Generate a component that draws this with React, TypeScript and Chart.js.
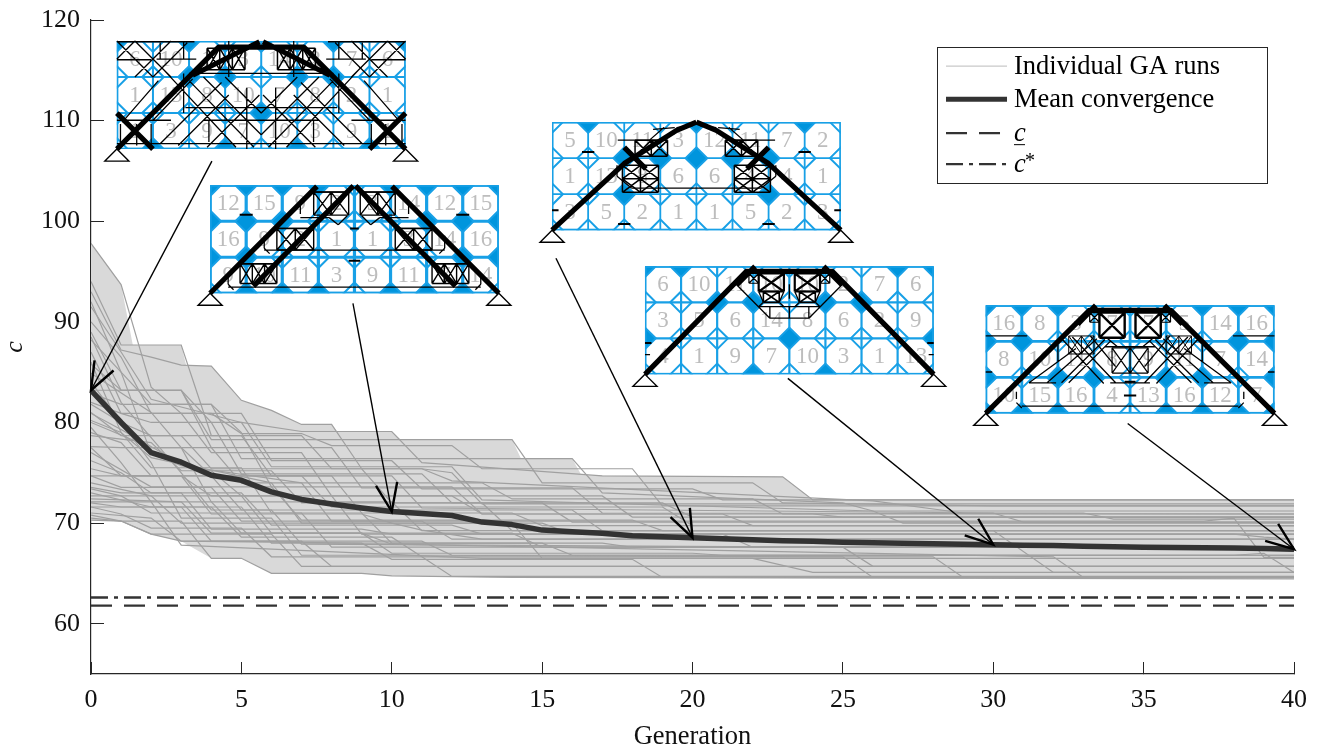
import React, { useEffect, useRef } from "react";
import { Chart, registerables } from "chart.js";

Chart.register(...registerables);

const SERIF = '"Liberation Serif", "Times New Roman", serif';
const xTicks = [0, 5, 10, 15, 20, 25, 30, 35, 40];
const yTicks = [60, 70, 80, 90, 100, 110, 120];
const legendLabels = ["Individual GA runs", "Mean convergence", "c", "c"];

const meanGen = [0,1,2,3,4,5,6,7,8,9,10,11,12,13,14,15,16,17,18,19,20,21,22,23,24,25,26,27,28,29,30,31,32,33,34,35,36,37,38,39,40];
const meanC = [83.2,80.0,77.0,76.05,74.75,74.25,73.1,72.35,71.9,71.5,71.15,70.95,70.75,70.1,69.85,69.3,69.15,69.0,68.75,68.65,68.55,68.45,68.35,68.25,68.2,68.1,68.05,68.0,67.95,67.9,67.85,67.8,67.77,67.7,67.65,67.6,67.57,67.55,67.52,67.47,67.4];
const cLower = 61.8;
const cStar = 62.6;

const upperEnvelope = [[0,97.8],[1,93.7],[1.39,87.7],[3,87.7],[3.17,85.6],[4,85.6],[5,82.2],[6,81.2],[7,79.8],[8,79.8],[8.17,79.1],[10,79.1],[10.3,78.3],[14,78.3],[14.3,76.4],[16,76.4],[16.3,74.8],[17,74.7],[23,74.6],[24,72.3],[40,72.3]];
const lowerEnvelope = [[0,70.25],[1,70.2],[2,68.9],[3,68.2],[4,66.5],[5,66.5],[6,65.0],[9,65.0],[10,64.75],[14,64.6],[40,64.45]];

const run01 = [[0,97.8],[1,93.7],[2,83.5],[3,80.9],[5,80.9],[6,76.2],[10,76.2],[11,73.4],[20,73.4],[21,72.3],[40,72.3]];
const run02 = [[0,94.0],[1,87.7],[3,87.7],[4,78.7],[7,78.7],[8,75.4],[11,75.4],[12,74.2],[26,72.2],[29,71.0],[33,71.0],[34,70.4],[40,70.4]];
const run03 = [[0,93.0],[1,87.2],[2,86.5],[3,85.7],[4,85.6],[5,82.2],[6,81.2],[7,79.8],[8,79.8],[9,75.4],[11,75.4],[12,75.0],[13,71.9],[40,71.9]];
const run04 = [[0,91.5],[1,87.0],[2,82.3],[5,80.0],[7,79.1],[10,79.1],[11,76.0],[17,74.7],[23,74.6],[24,72.3],[40,72.3]];
const run05 = [[0,90.0],[1,86.5],[2,80.9],[4,80.9],[5,78.9],[7,78.9],[8,77.7],[12,77.7],[13,75.4],[18,75.4],[19,71.7],[40,71.7]];
const run06 = [[0,89.0],[1,83.2],[3,83.2],[4,78.3],[10,78.3],[14,78.3],[15,74.0],[22,74.0],[23,72.0],[30,71.7],[40,71.7]];
const run07 = [[0,88.2],[1,85.0],[2,81.8],[4,81.8],[5,76.4],[14,76.4],[16,76.4],[17,73.0],[25,72.0],[26,71.2],[40,71.2]];
const run08 = [[0,87.0],[1,80.9],[2,80.0],[5,80.0],[6,75.6],[12,75.6],[13,72.3],[26,71.2],[27,70.0],[40,70.0]];
const run09 = [[0,85.8],[1,83.2],[3,83.2],[4,77.5],[8,77.5],[9,73.5],[16,73.5],[17,71.0],[40,70.9]];
const run10 = [[0,84.9],[2,81.0],[3,77.5],[4,77.5],[5,74.0],[13,74.0],[14,72.4],[22,72.4],[23,70.9],[40,70.9]];
const run11 = [[0,83.2],[3,83.2],[4,80.0],[5,74.9],[11,74.9],[12,72.0],[19,72.0],[20,70.6],[40,70.6]];
const run12 = [[0,82.9],[1,81.8],[4,81.8],[5,79.0],[6,73.6],[12,73.6],[13,70.9],[24,70.9],[25,70.6],[40,70.6]];
const run13 = [[0,82.0],[1,80.9],[3,80.9],[4,77.0],[7,77.0],[8,72.7],[17,72.7],[18,70.6],[40,70.6]];
const run14 = [[0,81.8],[1,80.0],[2,78.7],[5,78.7],[6,74.7],[10,74.7],[11,71.5],[30,71.0],[31,70.1],[40,70.1]];
const run15 = [[0,81.0],[1,78.7],[3,78.7],[4,75.4],[9,75.4],[10,72.0],[15,72.0],[16,70.1],[40,70.1]];
const run16 = [[0,80.2],[1,79.0],[2,76.5],[4,75.2],[5,72.7],[12,72.7],[13,70.9],[21,70.9],[22,69.75],[40,69.75]];
const run17 = [[0,80.0],[2,77.5],[3,77.5],[4,74.7],[8,74.7],[9,71.0],[14,71.0],[15,69.75],[40,69.75]];
const run18 = [[0,79.0],[1,78.0],[2,74.7],[7,74.7],[8,71.6],[19,71.6],[20,69.75],[40,69.75]];
const run19 = [[0,78.7],[2,78.0],[3,75.2],[6,75.2],[7,72.0],[13,72.0],[14,69.25],[40,69.25]];
const run20 = [[0,77.6],[1,77.5],[3,77.5],[4,72.1],[10,72.1],[11,69.25],[30,69.25],[32,65.1],[40,65.1]];
const run21 = [[0,77.5],[1,74.7],[4,74.7],[5,71.3],[16,71.3],[17,69.25],[40,69.25]];
const run22 = [[0,77.0],[2,73.6],[6,73.6],[7,70.3],[18,70.3],[19,69.25],[40,69.25]];
const run23 = [[0,76.2],[1,75.0],[2,73.0],[5,73.0],[6,69.8],[12,69.8],[13,68.9],[40,68.9]];
const run24 = [[0,75.4],[1,74.7],[3,74.7],[4,70.9],[9,70.9],[10,70.0],[15,70.0],[16,68.9],[40,68.9]];
const run25 = [[0,74.7],[3,74.7],[4,72.7],[8,72.7],[9,68.9],[38,68.9],[39,68.6],[40,68.4]];
const run26 = [[0,74.7],[1,73.55],[4,73.55],[5,70.2],[11,70.2],[12,68.4],[40,68.4]];
const run27 = [[0,74.0],[2,72.7],[3,70.0],[10,70.0],[11,69.3],[13,68.4],[40,68.4]];
const run28 = [[0,73.55],[1,73.0],[3,73.0],[4,69.4],[9,69.4],[10,68.9],[21,68.9],[22,67.6],[40,67.6]];
const run29 = [[0,73.4],[1,72.7],[5,72.7],[6,69.0],[14,69.0],[15,67.6],[40,67.6]];
const run30 = [[0,73.0],[2,71.6],[5,71.6],[6,68.0],[17,68.0],[18,67.6],[40,67.6]];
const run31 = [[0,72.7],[1,72.7],[2,71.0],[7,71.0],[8,67.6],[40,67.6]];
const run32 = [[0,72.4],[3,72.1],[4,69.0],[9,69.0],[10,67.0],[20,67.0],[21,66.8],[40,66.8]];
const run33 = [[0,72.1],[2,72.1],[3,67.8],[13,66.5],[40,66.5]];
const run34 = [[0,72.0],[1,71.6],[4,71.6],[5,68.6],[10,68.6],[11,66.65],[12,64.7],[40,64.7]];
const run35 = [[0,71.6],[3,71.6],[4,68.2],[11,68.2],[12,66.8],[24,66.65],[25,66.65],[26,64.6],[40,64.6]];
const run36 = [[0,71.6],[1,70.9],[2,69.5],[5,69.5],[6,66.65],[27,66.65],[28,66.65],[29,64.6],[40,64.6]];
const run37 = [[0,71.0],[2,70.5],[3,68.2],[7,68.2],[8,65.7],[40,65.7]];
const run38 = [[0,70.8],[1,70.2],[2,68.9],[6,68.9],[7,65.7],[40,65.7]];
const run39 = [[0,70.5],[1,70.2],[3,70.2],[4,66.5],[5,66.5],[6,65.0],[9,65.0],[10,64.75],[14,64.6],[40,64.45]];
const run40 = [[0,70.3],[1,70.2],[2,68.9],[3,68.2],[9,68.0],[10,66.4],[18,66.4],[19,64.6],[40,64.6]];
const run41 = [[0,80.9],[1,79.3],[3,75.9],[6,74.0],[7,70.0],[14,70.0],[15,66.5],[22,66.5],[24,65.1],[40,65.1]];
const run42 = [[0,79.5],[1,76.0],[2,72.1],[4,72.1],[5,69.0],[9,69.0],[10,67.9],[32,66.65],[33,64.6],[40,64.6]];
const run43 = [[0,86.0],[1,79.0],[2,75.5],[5,75.5],[6,71.0],[9,71.0],[10,68.0],[15,68.0],[16,66.8],[40,66.8]];
const run44 = [[0,92.0],[1,85.0],[2,76.9],[3,75.7],[7,74.0],[8,70.2],[37,70.2],[38,70.5],[39,66.6],[40,66.6]];
const run45 = [[0,84.0],[2,76.0],[3,70.5],[6,70.5],[7,66.8],[38,66.8],[39,67.0],[40,65.1]];
const run46 = [[0,88.5],[1,82.0],[3,75.0],[4,71.3],[6,71.3],[7,67.9],[24,67.6],[25,67.6],[26,65.7],[40,65.7]];
const runs = [run01,run02,run03,run04,run05,run06,run07,run08,run09,run10,run11,run12,run13,run14,run15,run16,run17,run18,run19,run20,run21,run22,run23,run24,run25,run26,run27,run28,run29,run30,run31,run32,run33,run34,run35,run36,run37,run38,run39,run40,run41,run42,run43,run44,run45,run46];

// Inset truss drawings, positioned in axis units; geometry is in cell units (8 x 3 cells).
const CELL_GEN = 1.2;
const CELL_C = 3.58;

const inset1 = {
  left: 0.86, top: 117.91, grid: 2,
  numbers: [[6,10,1,3,14,2,7,6],[1,13,8,10,7,8,2,1],[1,3,9,7,10,3,9,1]],
  filled: [[0,0],[2,0],[6,0],[8,0],[2,1],[3,1],[5,1],[6,1],[4,2],[3,3],[5,3],[1,3],[7,3]],
  thick: [[0,3,2.82,0.17,4,0.17],[2.1,0.95,3.95,0.02],[0,2,1,3]],
  boxes: [[2.5,0.2,1.05,0.6,3,1,1.5]],
  thin: [[0,0.02,2.15,0.02],[0,0.52,0.95,0.52],[0,0.5,0.5,0],[0.5,1,1.5,0],[1,1,1.95,0.05],[0,0,1,1],[0.5,0,1.5,1],[1.2,0.05,1.2,0.5],[1.85,0,1.85,0.5],[1,2.2,2.1,1.05],[1.2,2.85,2.9,1.15],[1.7,2.9,3.1,1.5],[2.5,2.95,3.95,1.5],[1.3,0.8,3.3,2.95],[2,1.1,3.8,2.95],[2.4,1,4,2.6],[3,1,4,2],[2,0.9,4,0.9],[1.9,1.85,4,1.85],[0,2.2,1.5,2.2],[0,2.85,4,2.85],[1.85,0.9,1.85,2],[0.15,2.25,1.15,1.1],[2.4,2.2,4,2.2],[1.1,0.5,2.2,0.5],[3.1,0,3.1,1],[3.6,1.3,3.6,3],[2.55,2.2,2.55,2.8],[0.1,2.3,0.1,2.9],[0.55,2.3,0.55,2.9],[0.95,2.3,0.95,2.9]],
  ticks: [],
};
const inset2 = {
  left: 3.96, top: 103.58, grid: 3.2,
  numbers: [[12,15,9,2,3,14,12,15],[16,9,2,1,1,3,14,16],[9,10,11,3,9,11,7,14]],
  filled: [[0,0],[1,0],[2,0],[3,0],[5,0],[6,0],[7,0],[8,0],[0,1],[1,1],[2,1],[6,1],[7,1],[8,1],[0,2],[1,2],[7,2],[8,2],[1,3],[2,3],[3,3],[5,3],[6,3],[7,3]],
  thick: [[0,3,2.96,0.03],[1.2,2.8,3.97,0.02]],
  boxes: [[0.83,2.18,1.02,0.55,3,1,1.4],[1.85,1.2,1.02,0.6,2,1,1.4],[2.87,0.19,0.97,0.64,2,1,1.4]],
  thin: [[0.5,2.83,4,2.83],[0.5,2.5,0.5,2.75],[0.5,2.75,0.65,2.9],[1.5,1.8,4,1.8],[1.5,1.4,1.5,1.75],[1.5,1.75,1.65,1.9],[2.5,0.9,3.3,0.9],[3.3,0.9,3.55,1.1],[3.55,1.1,3.8,0.85],[2.5,0.45,2.5,0.8],[0.83,2.18,1.85,2.18],[1.85,1.2,2.87,1.2],[2.87,0.19,3.84,0.19]],
  ticks: [[1,0.82,0.18],[4,2.1,0.16],[4,1.2,0.12]],
};
const inset3 = {
  left: 15.33, top: 109.85, grid: 1.8,
  numbers: [[5,10,11,3,12,11,7,2],[1,13,8,6,6,4,4,1],[3,5,2,1,1,5,2,3]],
  filled: [[1,0],[4,0],[7,0],[2,1],[3,1],[4,1],[5,1],[6,1],[2,2],[6,2]],
  thick: [[0,3,2,1.15,3.45,0.23,4,0],[2.0,0.7,2.6,1.3]],
  boxes: [[2.3,0.5,0.9,0.45,2,1,1.5],[1.95,1.2,1,0.75,2,2,1.5]],
  thin: [[1.82,0.5,3.2,0.5],[1.8,1.2,1.8,1.5],[1.8,1.5,2.2,1.83],[2.2,1.83,4,1.83],[2.8,0.2,3.4,0.15],[2.7,0.5,3.1,0.15],[3.45,0.15,3.9,0.1]],
  ticks: [[1,0.83,0.17],[0.09,2.45,0.09],[2,2.83,0.17]],
};
const inset4 = {
  left: 18.42, top: 95.52, grid: 2.2,
  numbers: [[6,10,11,10,10,2,7,6],[3,5,6,14,8,6,2,9],[4,1,9,7,10,3,1,13]],
  filled: [[0,0],[1,0],[7,0],[8,0],[2,1],[3,1],[5,1],[6,1],[4,2],[0,2],[8,2],[3,3],[5,3]],
  thick: [[0,3,2.81,0.14,4,0.14],[2.54,0.52,3.05,0.0]],
  boxes: [[3.15,0.2,0.7,0.5,1,1,2.2],[3.28,0.7,0.44,0.3,1,1,1.6],[2.88,0.2,0.27,0.27,1,1,1.2]],
  thin: [[2.54,0.51,3.46,1.44],[3.46,1.44,4,1.44],[3.46,1.14,3.46,1.44],[3.15,1.12,4,1.12],[3.15,0.7,3.28,1.0],[3.85,0.7,3.72,1.0],[4,0.5,4,0.9],[4,1.14,4,1.44],[3.28,1.0,3.15,1.12],[3.72,1.0,3.85,1.12],[0,2.45,0.14,2.45]],
  ticks: [[0.09,2.13,0.09]],
};
const inset5 = {
  left: 29.75, top: 91.64, grid: 2.8,
  numbers: [[16,8,3,7,7,5,14,16],[8,10,11,8,9,11,7,14],[10,15,16,4,13,16,12,7]],
  filled: [[0,0],[1,0],[2,0],[6,0],[7,0],[8,0],[0,1],[1,1],[7,1],[8,1],[0,2],[8,2],[2,2],[3,2],[5,2],[6,2],[0,3],[1,3],[2,3],[3,3],[5,3],[6,3],[7,3],[8,3]],
  thick: [[0,3,2.87,0.14,4,0.14],[2.55,0.52,3.05,0.0]],
  boxes: [[3.15,0.2,0.7,0.7,1,1,2.4],[2.88,0.2,0.27,0.27,1,1,1.2],[3.5,1.18,0.5,0.7,1,1,1.2],[2.3,0.85,0.7,0.5,2,1,1]],
  thin: [[2.06,0.88,3.27,2.17],[2.4,0.88,3.6,2.15],[2.9,0.85,3.6,1.7],[1.7,2.15,3.08,0.93],[2.1,2.15,3.3,0.95],[2.3,2.15,3.45,1],[1.2,2.15,2.5,1.2],[0,0.85,1.15,0.85],[1.2,2.15,1.95,2.15],[3.45,2.15,4,2.15],[1,2.8,4,2.8],[0.85,2.7,1,2.85],[0.85,2.4,0.85,2.6],[2,1.1,2,1.55],[3.3,1.15,4,1.15],[0,1.85,0.18,1.85],[3.35,0.9,3.65,1.15]],
  ticks: [[4,2.12,0.15],[4,2.5,0.17]],
};
const insets = [inset1, inset2, inset3, inset4, inset5];

// Annotation arrows: tail in axis units, head on the mean curve at a generation.
const arrowTailGen = [4.02, 8.71, 15.46, 23.17, 34.47];
const arrowTailC = [105.97, 91.84, 96.32, 84.38, 79.9];
const arrowHeadGen = [0, 10, 20, 30, 40];

const toXY = (r: number[][]) => r.map(([x, y]) => ({ x, y }));
const noPadding = (s: any) => {
  s.paddingTop = 0;
  s.paddingBottom = 0;
  s.paddingLeft = 0;
  s.paddingRight = 0;
};

const insetPlugin = {
  id: "insets",
  afterDatasetsDraw(chart: any) {
    const { ctx, scales } = chart;
    const xs = scales.x;
    const ys = scales.y;
    const BLUE = "#0095dd";
    const LINE = "#18a0e6";
    ctx.save();
    // arrows
    arrowHeadGen.forEach((g, k) => {
      const i = meanGen.indexOf(g);
      const hx = xs.getPixelForValue(g);
      const hy = ys.getPixelForValue(meanC[i]);
      const tx = xs.getPixelForValue(arrowTailGen[k]);
      const ty = ys.getPixelForValue(arrowTailC[k]);
      ctx.strokeStyle = "#000";
      ctx.lineWidth = 1.4;
      ctx.beginPath();
      ctx.moveTo(tx, ty);
      ctx.lineTo(hx, hy);
      ctx.stroke();
      const a = Math.atan2(ty - hy, tx - hx);
      ctx.lineWidth = 2.4;
      ctx.beginPath();
      const sp = (21 * Math.PI) / 180;
      ctx.moveTo(hx + 30 * Math.cos(a - sp), hy + 30 * Math.sin(a - sp));
      ctx.lineTo(hx, hy);
      ctx.lineTo(hx + 30 * Math.cos(a + sp), hy + 30 * Math.sin(a + sp));
      ctx.stroke();
    });
    // insets
    insets.forEach((ins) => {
      const px = (u: number) => xs.getPixelForValue(ins.left + u * CELL_GEN);
      const py = (v: number) => ys.getPixelForValue(ins.top - v * CELL_C);
      const seg = (u1: number, v1: number, u2: number, v2: number) => {
        ctx.moveTo(px(u1), py(v1));
        ctx.lineTo(px(u2), py(v2));
      };
      const x0 = px(0), y0 = py(0), w = px(8) - x0, h = py(3) - y0;
      ctx.save();
      ctx.beginPath();
      ctx.rect(x0, y0, w, h);
      ctx.clip();
      ctx.fillStyle = "#fff";
      ctx.fillRect(x0, y0, w, h);
      ctx.strokeStyle = LINE;
      ctx.lineWidth = ins.grid;
      ctx.beginPath();
      for (let i = 0; i <= 8; i++) seg(i, 0, i, 3);
      for (let j = 0; j <= 3; j++) seg(0, j, 8, j);
      ctx.stroke();
      ctx.lineWidth = 2;
      const r = 0.3;
      ctx.lineJoin = "miter";
      for (let i = 0; i <= 8; i++) {
        for (let j = 0; j <= 3; j++) {
          const isFilled = ins.filled.some((f) => f[0] === i && f[1] === j);
          ctx.beginPath();
          ctx.moveTo(px(i - r), py(j));
          ctx.lineTo(px(i), py(j - r));
          ctx.lineTo(px(i + r), py(j));
          ctx.lineTo(px(i), py(j + r));
          ctx.closePath();
          if (isFilled) {
            ctx.fillStyle = BLUE;
            ctx.fill();
          }
          ctx.stroke();
        }
      }
      ctx.strokeStyle = LINE;
      ctx.lineWidth = 3;
      ctx.strokeRect(x0, y0, w, h);
      ctx.fillStyle = "#bdbdbd";
      ctx.font = `23px ${SERIF}`;
      ctx.textAlign = "center";
      ctx.textBaseline = "middle";
      ins.numbers.forEach((row, j) =>
        row.forEach((n, i) => ctx.fillText(String(n), px(i + 0.5), py(j + 0.5) + 1))
      );
      ctx.restore();

      ctx.strokeStyle = "#000";
      ctx.lineCap = "butt";
      // thin members, mirrored about the centre line
      ctx.lineWidth = 1.3;
      ctx.beginPath();
      ins.thin.forEach(([a, b, c, d]) => {
        seg(a, b, c, d);
        seg(8 - a, b, 8 - c, d);
      });
      ctx.stroke();
      // braced panels
      ins.boxes.forEach(([u, v, bw, bh, nx, ny, lw]) => {
        ctx.lineWidth = lw;
        ctx.beginPath();
        for (const m of [0, 1]) {
          const f = (q: number) => (m ? 8 - q : q);
          for (let a = 0; a <= nx; a++) seg(f(u + (a * bw) / nx), v, f(u + (a * bw) / nx), v + bh);
          for (let b = 0; b <= ny; b++) seg(f(u), v + (b * bh) / ny, f(u + bw), v + (b * bh) / ny);
          for (let a = 0; a < nx; a++)
            for (let b = 0; b < ny; b++) {
              const ua = u + (a * bw) / nx, ub = u + ((a + 1) * bw) / nx;
              const va = v + (b * bh) / ny, vb = v + ((b + 1) * bh) / ny;
              seg(f(ua), va, f(ub), vb);
              seg(f(ub), va, f(ua), vb);
            }
        }
        ctx.stroke();
      });
      // short bars at nodes
      ctx.lineWidth = 2;
      ctx.beginPath();
      ins.ticks.forEach(([u, v, s]) => {
        seg(u - s, v, u + s, v);
        seg(8 - u - s, v, 8 - u + s, v);
      });
      ctx.stroke();
      // heavy members
      ctx.lineWidth = 5.2;
      ctx.lineJoin = "round";
      ctx.beginPath();
      ins.thick.forEach((p) => {
        for (const m of [0, 1]) {
          const f = (q: number) => (m ? 8 - q : q);
          ctx.moveTo(px(f(p[0])), py(p[1]));
          for (let q = 2; q < p.length; q += 2) ctx.lineTo(px(f(p[q])), py(p[q + 1]));
        }
      });
      ctx.stroke();
      // supports
      ctx.lineWidth = 1.4;
      ctx.lineJoin = "miter";
      for (const u of [0, 8]) {
        ctx.beginPath();
        ctx.moveTo(px(u), py(3));
        ctx.lineTo(px(u) - 12, py(3) + 12);
        ctx.lineTo(px(u) + 12, py(3) + 12);
        ctx.closePath();
        ctx.stroke();
      }
    });
    // legend
    const lx = xs.getPixelForValue(28.13);
    const ly = ys.getPixelForValue(117.3);
    ctx.fillStyle = "#fff";
    ctx.fillRect(lx, ly, 330, 136);
    ctx.strokeStyle = "#262626";
    ctx.lineWidth = 1;
    ctx.strokeRect(Math.round(lx) + 0.5, Math.round(ly) + 0.5, 330, 136);
    const rows = [19, 52, 86, 117];
    const styles = [
      { c: "#c9c9c9", w: 1.2, d: [] as number[] },
      { c: "#333333", w: 5, d: [] as number[] },
      { c: "#333333", w: 2.4, d: [21, 12] },
      { c: "#333333", w: 2.4, d: [17, 6, 4, 6] },
    ];
    ctx.textAlign = "left";
    ctx.textBaseline = "alphabetic";
    rows.forEach((dy, k) => {
      const s = styles[k];
      ctx.strokeStyle = s.c;
      ctx.lineWidth = s.w;
      ctx.setLineDash(s.d);
      ctx.beginPath();
      ctx.moveTo(lx + 9, ly + dy);
      ctx.lineTo(lx + 70, ly + dy);
      ctx.stroke();
      ctx.setLineDash([]);
      ctx.fillStyle = "#000";
      const base = ly + dy + 8;
      if (k < 2) {
        ctx.font = `26.5px ${SERIF}`;
        ctx.fillText(legendLabels[k], lx + 77, base);
      } else {
        ctx.font = `italic 26.5px ${SERIF}`;
        ctx.fillText(legendLabels[k], lx + 77, base);
        if (k === 2) {
          ctx.strokeStyle = "#000";
          ctx.lineWidth = 1;
          ctx.beginPath();
          ctx.moveTo(lx + 77, base + 3.5);
          ctx.lineTo(lx + 88, base + 3.5);
          ctx.stroke();
        } else {
          ctx.font = `20px ${SERIF}`;
          ctx.fillText("*", lx + 88, base - 5);
        }
      }
    });
    ctx.restore();
  },
};

export default function App() {
  const ref = useRef<HTMLCanvasElement | null>(null);
  useEffect(() => {
    document.body.style.margin = "0";
    const runSets = runs.map((r) => ({
      data: toXY(r),
      borderColor: "#a0a0a0",
      borderWidth: 1.2,
      pointRadius: 0,
      tension: 0,
      fill: false,
      order: 2,
    }));
    const chart = new Chart(ref.current as HTMLCanvasElement, {
      type: "line",
      data: {
        datasets: [
          {
            label: "Upper",
            data: toXY(upperEnvelope),
            borderColor: "rgba(0,0,0,0)",
            borderWidth: 0,
            backgroundColor: "#d9d9d9",
            pointRadius: 0,
            fill: 1,
            order: 3,
          },
          {
            label: "Lower",
            data: toXY(lowerEnvelope),
            borderColor: "rgba(0,0,0,0)",
            borderWidth: 0,
            pointRadius: 0,
            fill: false,
            order: 3,
          },
          ...runSets,
          {
            label: "Mean convergence",
            data: meanGen.map((x, i) => ({ x, y: meanC[i] })),
            borderColor: "#333333",
            borderWidth: 5.5,
            pointRadius: 0,
            fill: false,
            order: 0,
            borderJoinStyle: "round",
          },
          {
            label: "c",
            data: [{ x: 0, y: cLower }, { x: 40, y: cLower }],
            borderColor: "#333333",
            borderWidth: 2.4,
            borderDash: [21, 12],
            pointRadius: 0,
            fill: false,
            order: 1,
          },
          {
            label: "c*",
            data: [{ x: 0, y: cStar }, { x: 40, y: cStar }],
            borderColor: "#333333",
            borderWidth: 2.4,
            borderDash: [17, 6, 4, 6],
            pointRadius: 0,
            fill: false,
            order: 1,
          },
        ] as any,
      },
      options: {
        animation: false,
        responsive: false,
        maintainAspectRatio: false,
        layout: { padding: { left: 0, right: 24, top: 20, bottom: 0 }, autoPadding: false },
        plugins: { legend: { display: false }, tooltip: { enabled: false } },
        scales: {
          x: {
            type: "linear",
            min: 0,
            max: 40,
            afterFit: (s: any) => { s.height = 78; noPadding(s); },
            afterBuildTicks: (s: any) => { s.ticks = xTicks.map((value) => ({ value })); },
            grid: { drawOnChartArea: false, tickLength: -12, color: "#262626", lineWidth: 1 },
            border: { color: "#262626", width: 1.2 },
            ticks: { padding: 23, maxRotation: 0, autoSkip: false, color: "#111", font: { family: SERIF, size: 26 } },
            title: { display: true, text: "Generation", color: "#111", font: { family: SERIF, size: 26.5 }, padding: { top: 0, bottom: -1 } },
          },
          y: {
            type: "linear",
            min: 55,
            max: 120,
            afterFit: (s: any) => { s.width = 91; noPadding(s); },
            afterBuildTicks: (s: any) => { s.ticks = yTicks.map((value) => ({ value })); },
            grid: { drawOnChartArea: false, tickLength: -13, color: "#262626", lineWidth: 1 },
            border: { color: "#262626", width: 1.2 },
            ticks: { padding: 24, autoSkip: false, color: "#111", font: { family: SERIF, size: 26 } },
            title: { display: true, text: "c", color: "#111", font: { family: SERIF, size: 26, style: "italic" }, padding: { top: 0, bottom: 0 } },
          },
        },
      } as any,
      plugins: [insetPlugin as any],
    });
    return () => chart.destroy();
  }, []);
  return <canvas ref={ref} width={1318} height={752} style={{ display: "block", position: "absolute", left: 0, top: 0 }} />;
}
